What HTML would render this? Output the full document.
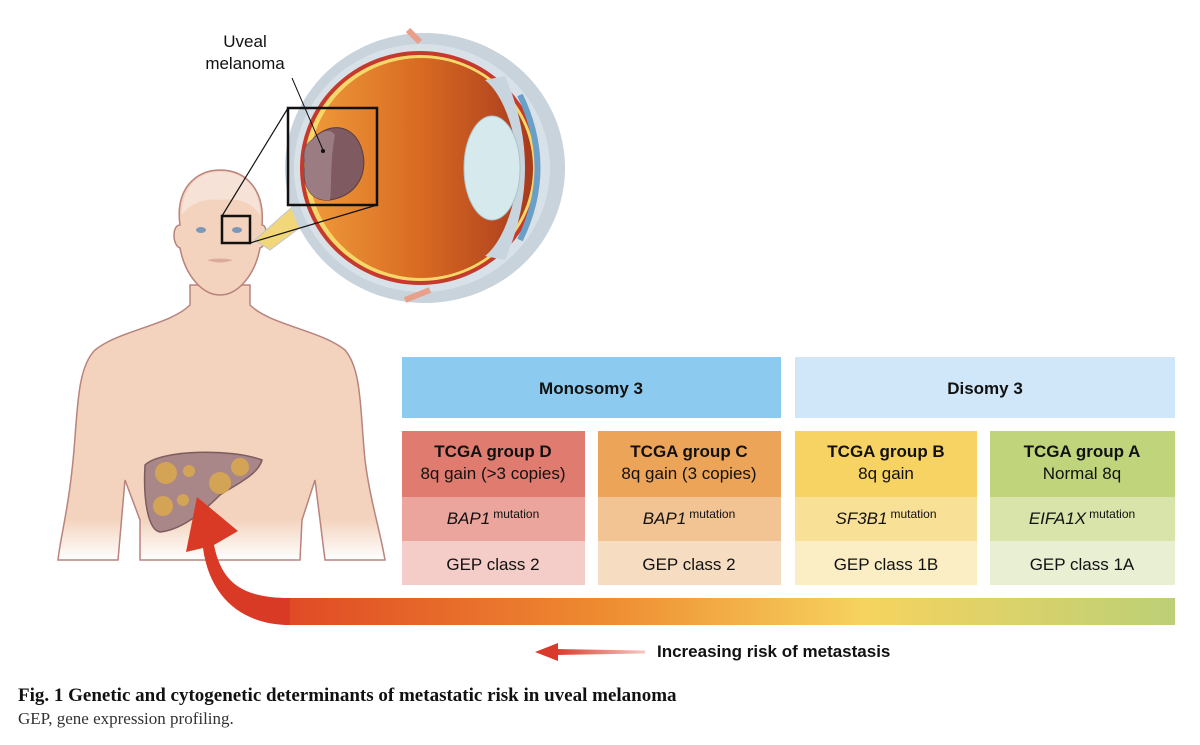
<!DOCTYPE html>
<html><head><meta charset="utf-8"><style>
body{margin:0;background:#fff;}
svg{display:block;}
.s{font-family:"Liberation Sans",Arial,sans-serif;}
</style></head><body>
<svg width="1200" height="745" viewBox="0 0 1200 745" xmlns="http://www.w3.org/2000/svg">
<defs>
<linearGradient id="bar" x1="0" x2="1" y1="0" y2="0">
<stop offset="0" stop-color="#e04a25"/><stop offset="0.35" stop-color="#ee8a30"/><stop offset="0.65" stop-color="#f6d35e"/><stop offset="1" stop-color="#bcd077"/>
</linearGradient>
<linearGradient id="eyeg" x1="0" x2="1"><stop offset="0" stop-color="#ef9a3a"/><stop offset="0.5" stop-color="#d86a22"/><stop offset="1" stop-color="#a83a1e"/></linearGradient>
<linearGradient id="sa" x1="0" x2="1"><stop offset="0" stop-color="#d93a2a"/><stop offset="1" stop-color="#f6c9c2"/></linearGradient>
<linearGradient id="bodyfade" x1="0" y1="0" x2="0" y2="1"><stop offset="0.85" stop-color="#f3d3bd"/><stop offset="1" stop-color="#f3d3bd" stop-opacity="0"/></linearGradient>
</defs>

<!-- body -->
<path d="M190 285 L190 305 C170 325 120 330 95 350 C75 370 78 420 72 470 C68 510 60 540 58 560 L118 560 L125 480 L140 520 L140 560 L300 560 L302 520 L315 480 L325 560 L385 560 C380 530 370 500 365 460 C360 410 362 370 345 350 C320 330 270 325 250 305 L250 285 Z" fill="url(#bodyfade)" stroke="#b9837e" stroke-width="1.5"/>
<!-- head -->
<path d="M180 225 C175 190 195 170 220 170 C246 170 265 190 262 225 C268 225 268 245 260 248 C255 275 238 295 220 295 C202 295 185 275 180 248 C172 245 172 225 180 225 Z" fill="#f3d3bd" stroke="#b9837e" stroke-width="1.5"/>
<path d="M182 215 C182 185 200 172 220 172 C242 172 260 185 260 215 C250 200 235 198 220 200 C205 198 190 203 182 215 Z" fill="#f6e2d6"/>
<ellipse cx="201" cy="230" rx="5" ry="3" fill="#7a98b8"/>
<ellipse cx="237" cy="230" rx="5" ry="3" fill="#7a98b8"/>
<path d="M207 260 Q220 257 233 260 Q220 265 207 260" fill="#dca99a"/>
<rect x="222" y="216" width="28" height="27" fill="none" stroke="#111" stroke-width="2.5"/>
<!-- liver -->
<path d="M145 465 C160 450 230 448 262 460 C258 475 235 485 220 495 C200 515 180 530 160 532 C148 530 143 500 145 465 Z" fill="#a98687" stroke="#7d5c5e" stroke-width="1.5"/>
<circle cx="166" cy="473" r="11" fill="#d4a456"/><circle cx="189" cy="471" r="6" fill="#d4a456"/><circle cx="220" cy="483" r="11" fill="#d4a456"/><circle cx="240" cy="467" r="9" fill="#d4a456"/><circle cx="163" cy="506" r="10" fill="#d4a456"/><circle cx="183" cy="500" r="6" fill="#d4a456"/>

<!-- eye -->
<path d="M300 200 L255 240 L270 250 L310 220 Z" fill="#f2d67a" stroke="#bdc7d1"/>
<ellipse cx="425" cy="168" rx="140" ry="135" fill="#c9d3dc"/>
<ellipse cx="422" cy="168" rx="128" ry="124" fill="#d9e1e8"/>
<ellipse cx="420" cy="168" rx="120" ry="117" fill="#c63a2e"/>
<ellipse cx="420" cy="168" rx="116" ry="113" fill="#f4d86a"/>
<ellipse cx="421" cy="168" rx="112" ry="110" fill="url(#eyeg)"/>
<path d="M485 80 Q510 100 520 168 Q510 236 485 256 L505 260 Q545 168 505 76 Z" fill="#c8d4de"/>
<ellipse cx="492" cy="168" rx="28" ry="52" fill="#d6eaee" stroke="#a9c5cc"/>
<path d="M520 95 Q555 168 520 240" fill="none" stroke="#6aa0c8" stroke-width="6"/>
<path d="M530 85 Q575 168 530 252" fill="none" stroke="#c9d3dc" stroke-width="4"/>
<path d="M408 30 L420 42" stroke="#e8a08a" stroke-width="6"/><path d="M405 300 L430 290" stroke="#e8a08a" stroke-width="6"/>
<rect x="288" y="108" width="89" height="97" fill="none" stroke="#111" stroke-width="2.5"/>
<path d="M312 140 C330 120 355 125 362 150 C368 170 360 195 330 200 C310 202 302 185 305 165 C303 150 305 145 312 140 Z" fill="#7f5a60" stroke="#5a3a40"/>
<path d="M312 140 C322 130 330 128 335 135 C330 160 332 185 330 200 C310 202 302 185 305 165 C303 150 305 145 312 140 Z" fill="#9a7c82"/>
<line x1="288" y1="108" x2="222" y2="216" stroke="#111" stroke-width="1.2"/>
<line x1="377" y1="205" x2="250" y2="243" stroke="#111" stroke-width="1.2"/>
<line x1="292" y1="78" x2="323" y2="150" stroke="#111" stroke-width="1"/>
<circle cx="323" cy="151" r="2" fill="#111"/>
<text class="s" x="245" y="47" font-size="17" text-anchor="middle" fill="#111">Uveal</text>
<text class="s" x="245" y="69" font-size="17" text-anchor="middle" fill="#111">melanoma</text>

<!-- header boxes -->
<rect x="402" y="357" width="379" height="61" fill="#8ccbef"/>
<rect x="795" y="357" width="380" height="61" fill="#cfe7f8"/>
<text class="s" x="591" y="394" font-size="17" font-weight="bold" text-anchor="middle" fill="#111">Monosomy 3</text>
<text class="s" x="985" y="394" font-size="17" font-weight="bold" text-anchor="middle" fill="#111">Disomy 3</text>

<!-- group columns -->
<g class="s" font-size="17" text-anchor="middle" fill="#111">
<rect x="402" y="431" width="183" height="66" fill="#e07b6f"/><rect x="402" y="497" width="183" height="44" fill="#eba59c"/><rect x="402" y="541" width="183" height="44" fill="#f4cdc8"/>
<text x="493" y="457" font-weight="bold">TCGA group D</text><text x="493" y="479">8q gain (&gt;3 copies)</text>
<text x="493" y="524"><tspan font-style="italic">BAP1</tspan><tspan dx="3" dy="-6" font-size="12">mutation</tspan></text><text x="493" y="570">GEP class 2</text>

<rect x="598" y="431" width="183" height="66" fill="#eba458"/><rect x="598" y="497" width="183" height="44" fill="#f2c493"/><rect x="598" y="541" width="183" height="44" fill="#f6dcc0"/>
<text x="689" y="457" font-weight="bold">TCGA group C</text><text x="689" y="479">8q gain (3 copies)</text>
<text x="689" y="524"><tspan font-style="italic">BAP1</tspan><tspan dx="3" dy="-6" font-size="12">mutation</tspan></text><text x="689" y="570">GEP class 2</text>

<rect x="795" y="431" width="182" height="66" fill="#f7d363"/><rect x="795" y="497" width="182" height="44" fill="#f9e097"/><rect x="795" y="541" width="182" height="44" fill="#fbeec4"/>
<text x="886" y="457" font-weight="bold">TCGA group B</text><text x="886" y="479">8q gain</text>
<text x="886" y="524"><tspan font-style="italic">SF3B1</tspan><tspan dx="3" dy="-6" font-size="12">mutation</tspan></text><text x="886" y="570">GEP class 1B</text>

<rect x="990" y="431" width="185" height="66" fill="#c0d57b"/><rect x="990" y="497" width="185" height="44" fill="#d8e4a9"/><rect x="990" y="541" width="185" height="44" fill="#e9efd2"/>
<text x="1082" y="457" font-weight="bold">TCGA group A</text><text x="1082" y="479">Normal 8q</text>
<text x="1082" y="524"><tspan font-style="italic">EIFA1X</tspan><tspan dx="3" dy="-6" font-size="12">mutation</tspan></text><text x="1082" y="570">GEP class 1A</text>
</g>

<!-- big arrow -->
<rect x="288" y="598" width="887" height="27" fill="url(#bar)"/>
<path d="M290 598 C245 598 222 585 214 545 L238 531 L197 497 L186 552 L203 548 C210 600 245 625 290 625 Z" fill="#d93a26"/>

<!-- small arrow -->
<path d="M555 649 L645 650.5 L645 653.5 L555 655 Z" fill="url(#sa)"/>
<path d="M535 652 L558 643 L558 661 Z" fill="#d93a2a"/>
<text class="s" x="657" y="657" font-size="17" font-weight="bold" fill="#111">Increasing risk of metastasis</text>

<text x="18" y="701" font-family="Liberation Serif,serif" font-size="19" font-weight="bold" fill="#111">Fig. 1 Genetic and cytogenetic determinants of metastatic risk in uveal melanoma</text>
<text x="18" y="724" font-family="Liberation Serif,serif" font-size="17" fill="#333">GEP, gene expression profiling.</text>
</svg>
</body></html>
